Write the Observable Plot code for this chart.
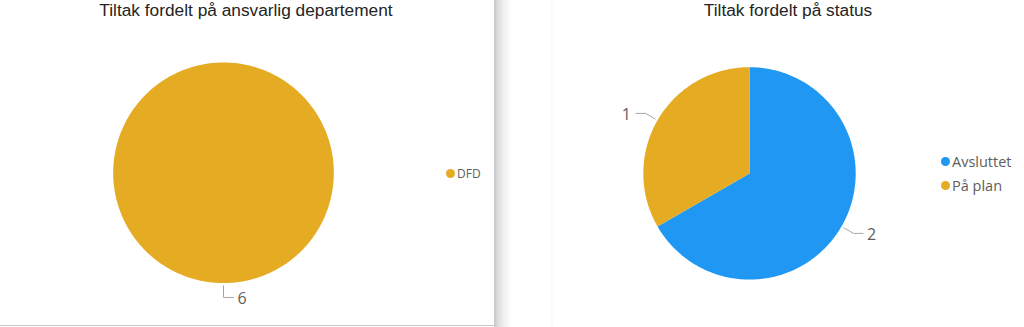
<!DOCTYPE html>
<html>
<head>
<meta charset="utf-8">
<script src="https://cdn.jsdelivr.net/npm/d3@7"></script>
<script src="https://cdn.jsdelivr.net/npm/@observablehq/plot@0.6"></script>
<style>
  html, body { margin: 0; padding: 0; background: #fff; }
  body { width: 1024px; height: 327px; overflow: hidden; position: relative; font-family: "Open Sans", "Noto Sans", sans-serif; }
  .panel { position: absolute; top: 0; height: 327px; }
  .title { position: absolute; top: -1px; font-family: "Liberation Sans", Arial, sans-serif; font-size: 17.3px; color: #252423; white-space: nowrap; transform: translateX(-50%); line-height: 22px; }
  .legend { position: absolute; font-family: "Open Sans", sans-serif; color: #605E5C; white-space: nowrap; }
  .legend .item { display: flex; align-items: center; }
  .legend .sw { border-radius: 50%; display: inline-block; margin-right: 2px; }
  .shadow { position: absolute; left: 494px; top: 0; width: 18px; height: 327px; background: linear-gradient(to right, #c3c5c7 0px, #d9dadb 3px, #eeeeef 9px, #ffffff 18px); }
  .bottomline { position: absolute; left: 0; top: 325px; width: 494px; height: 1px; background: #c8c8c8; }
  .rightedge { position: absolute; left: 551px; top: 0; width: 2px; height: 327px; background: linear-gradient(to right, #f7f7f7, #fcfcfc); }
  svg { position: absolute; top: 0; left: 0; overflow: visible; }
</style>
</head>
<body>
<div class="shadow"></div>
<div class="bottomline"></div>
<div class="rightedge"></div>
<div id="left" class="panel" style="left:0;width:494px"></div>
<div id="right" class="panel" style="left:553px;width:471px"></div>
<script>
// ---- Data ----
const deptTitle = "Tiltak fordelt på ansvarlig departement";
const deptLabels = ["DFD"];
const deptValues = [6];
const deptColors = ["#E5AB23"];

const statusTitle = "Tiltak fordelt på status";
const statusLabels = ["Avsluttet", "På plan"];
const statusValues = [2, 1];
const statusColors = ["#1F97F3", "#E5AB23"];

function pieChart(container, {title, titleX, labels, values, colors, width, cx, cy, r, legendX, legendY, legendFont, legendGap, dotSize}) {
  const height = 327;
  const arcs = d3.pie().sort(null).value(d => d)(values);
  const marks = [];
  arcs.forEach((a, i) => {
    const full = (a.endAngle - a.startAngle) >= 2 * Math.PI - 1e-9;
    const n = Math.max(4, Math.ceil((a.endAngle - a.startAngle) / (Math.PI / 180)));
    const pts = full ? [] : [{x: 0, y: 0}];
    for (let k = 0; k <= n; k++) {
      const t = a.startAngle + (a.endAngle - a.startAngle) * k / n;
      pts.push({x: Math.sin(t), y: Math.cos(t)});
    }
    marks.push(Plot.line(pts, {x: "x", y: "y", fill: colors[i], stroke: "none"}));
  });
  // leader lines and value labels
  const labelRows = [];
  arcs.forEach((a, i) => {
    const m = (a.startAngle + a.endAngle) / 2;
    const ux = Math.sin(m), uy = Math.cos(m);
    const side = ux < -1e-6 ? -1 : 1;
    const p1 = {x: 1.025 * ux, y: 1.025 * uy};
    const p2 = {x: 1.13 * ux, y: 1.13 * uy};
    const p3 = {x: p2.x + side * 0.09, y: p2.y};
    marks.push(Plot.line([p1, p2, p3], {x: "x", y: "y", stroke: "#A6A6A6", strokeWidth: 1}));
    labelRows.push({x: p3.x, y: p3.y, text: String(values[i]), side});
  });
  marks.push(Plot.text(labelRows.filter(d => d.side > 0), {x: "x", y: "y", text: "text", textAnchor: "start", dx: 4, dy: 1, fontSize: 16, fill: "#605E5C", fontFamily: "Open Sans"}));
  marks.push(Plot.text(labelRows.filter(d => d.side < 0), {x: "x", y: "y", text: "text", textAnchor: "end", dx: -5, dy: 1, fontSize: 16, fill: "#605E5C", fontFamily: "Open Sans"}));

  const chart = Plot.plot({
    width, height,
    margin: 0,
    x: {domain: [-1, 1], range: [cx - r, cx + r], axis: null},
    y: {domain: [-1, 1], range: [cy + r, cy - r], axis: null},
    style: {background: "transparent", overflow: "visible"},
    marks
  });
  container.appendChild(chart);

  const t = document.createElement("div");
  t.className = "title";
  t.style.left = titleX + "px";
  t.textContent = title;
  container.appendChild(t);

  const lg = document.createElement("div");
  lg.className = "legend";
  lg.style.left = legendX + "px";
  lg.style.top = legendY + "px";
  lg.style.fontSize = legendFont + "px";
  labels.forEach((l, i) => {
    const it = document.createElement("div");
    it.className = "item";
    it.style.height = legendGap + "px";
    const sw = document.createElement("span");
    sw.className = "sw";
    sw.style.width = dotSize + "px";
    sw.style.height = dotSize + "px";
    sw.style.background = colors[i];
    it.appendChild(sw);
    const tx = document.createElement("span");
    tx.textContent = l;
    it.appendChild(tx);
    lg.appendChild(it);
  });
  container.appendChild(lg);
}

pieChart(document.getElementById("left"), {
  title: deptTitle, titleX: 246,
  labels: deptLabels, values: deptValues, colors: deptColors,
  width: 494, cx: 223, cy: 172.3, r: 110.3,
  legendX: 446, legendY: 162, legendFont: 12, legendGap: 22, dotSize: 9
});
pieChart(document.getElementById("right"), {
  title: statusTitle, titleX: 788 - 553,
  labels: statusLabels, values: statusValues, colors: statusColors,
  width: 471, cx: 749 - 553, cy: 172.9, r: 106.2,
  legendX: 941 - 553, legendY: 149, legendFont: 14.5, legendGap: 24.5, dotSize: 9
});
</script>
</body>
</html>
